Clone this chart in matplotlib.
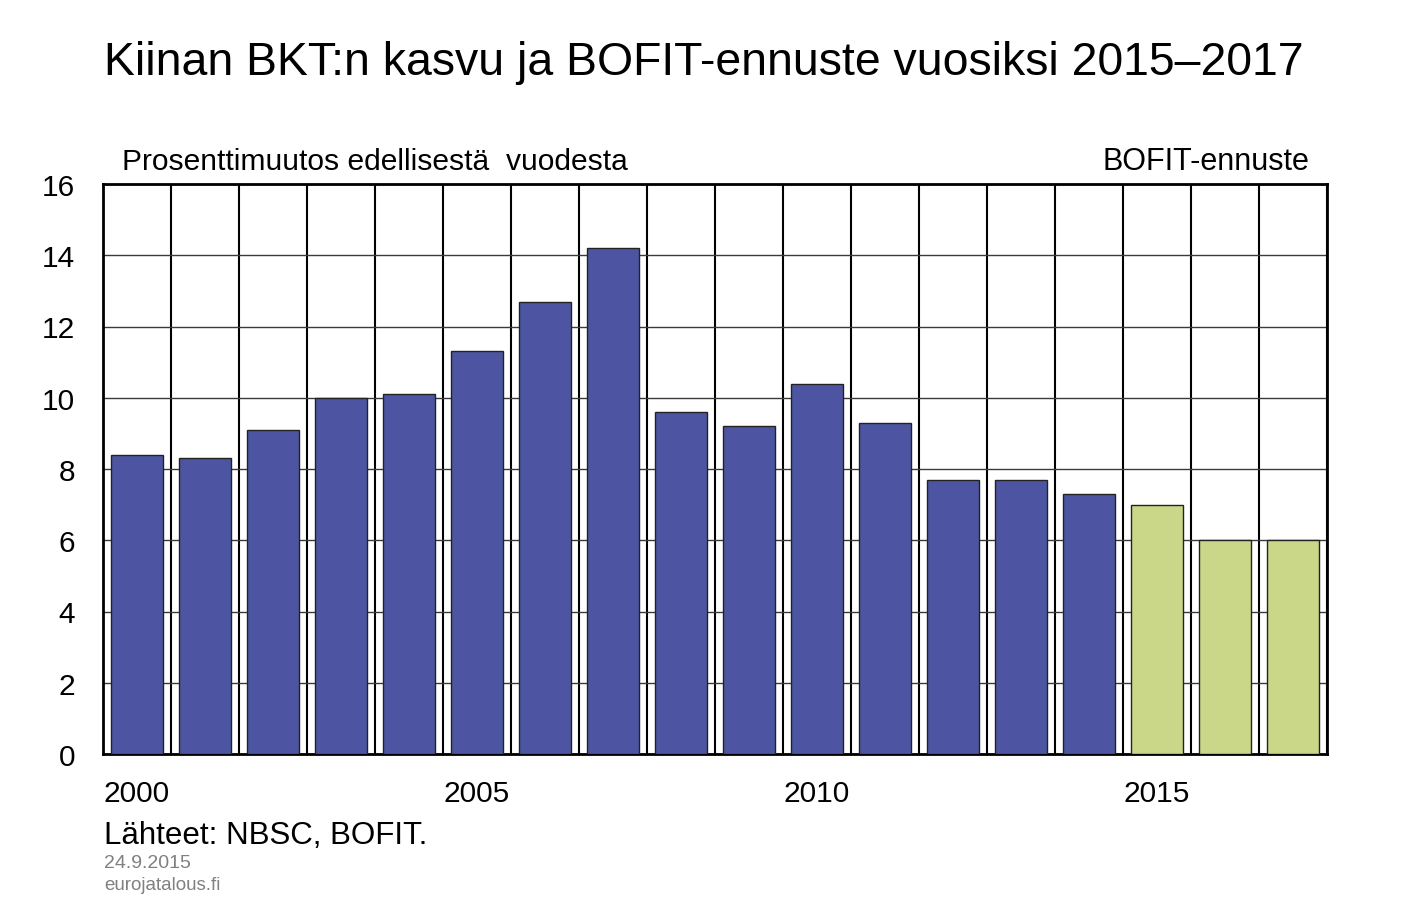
import numpy as np
import matplotlib.pyplot as plt

plt.rcParams['font.family'] = ['Liberation Sans', 'DejaVu Sans']

years = list(range(2000, 2018))
growth = [8.4, 8.3, 9.1, 10.0, 10.1, 11.3, 12.7, 14.2, 9.6, 9.2, 10.4, 9.3, 7.7, 7.7, 7.3, 7.0, 6.0, 6.0]
forecast_from = 2015
blue = "#4D55A3"
green = "#CAD688"
colors = [green if y >= forecast_from else blue for y in years]

fig = plt.figure(figsize=(14.07, 9.2), dpi=100)
ax = fig.add_axes([103/1407, 1-755/920, (1327-103)/1407, (755-185)/920])

ax.bar(years, growth, width=0.77, color=colors, edgecolor="#222222", linewidth=1, zorder=3)

ax.set_xlim(1999.5, 2017.5)
ax.set_ylim(0, 16)
ax.set_yticks(np.arange(0, 17, 2))
ax.set_xticks([2000, 2005, 2010, 2015])
ax.set_xticks(np.arange(1999.5, 2018, 1), minor=True)
ax.tick_params(axis='both', which='both', length=0)
ax.tick_params(axis='x', pad=18, labelsize=21.5)
ax.tick_params(axis='y', pad=20, labelsize=21.5)
ax.grid(axis='y', which='major', color="#3a3a3a", linewidth=1, zorder=1)
ax.grid(axis='x', which='minor', color="black", linewidth=1.5, zorder=1)
ax.set_axisbelow(True)
for s in ax.spines.values():
    s.set_linewidth(2)

fig.text(0.5, 1-63/920, "Kiinan BKT:n kasvu ja BOFIT-ennuste vuosiksi 2015\u20132017",
         ha='center', va='center', fontsize=33.4)
fig.text(122/1407, 1-162/920, "Prosenttimuutos edellisestä  vuodesta", ha='left', va='center', fontsize=21.6)
fig.text(1309/1407, 1-162/920, "BOFIT-ennuste", ha='right', va='center', fontsize=22)
fig.text(104/1407, 1-836/920, "Lähteet: NBSC, BOFIT.", ha='left', va='center', fontsize=22.5)
fig.text(104/1407, 1-864/920, "24.9.2015", ha='left', va='center', fontsize=14, color="#808080")
fig.text(104/1407, 1-886/920, "eurojatalous.fi", ha='left', va='center', fontsize=13.5, color="#808080")

fig.savefig("out.png", dpi=100)
